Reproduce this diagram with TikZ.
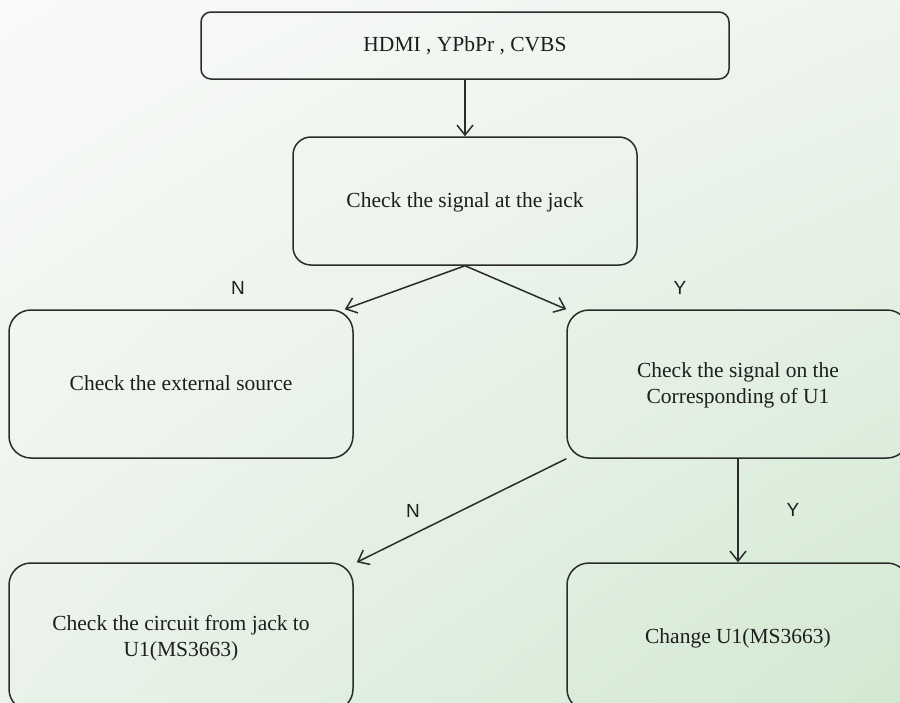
\documentclass[tikz,border=0pt]{standalone}
\usepackage{fontspec}
\usepackage{tikz}
\usepackage{xcolor}
\usetikzlibrary{arrows.meta,shadings}
\setmainfont{Liberation Serif}
\newfontfamily\lblfont{Liberation Sans}
\definecolor{edgegray}{HTML}{2B2B2B}
\definecolor{txtgray}{HTML}{1E1E1E}
\definecolor{bgtl}{HTML}{F9FAF8}
\definecolor{bgtr}{HTML}{EEF4EE}
\definecolor{bgbl}{HTML}{EAF2EA}
\definecolor{bgbr}{HTML}{D2E9D1}

\begin{document}
\begin{tikzpicture}[x=1pt,y=-1pt,
  box/.style={draw=edgegray,line width=1.5pt,rounded corners=#1,align=center,
    text=txtgray,font=\fontsize{21.5}{26}\selectfont,inner sep=0pt,text depth=2pt},
  yn/.style={text=txtgray,font=\lblfont\fontsize{19}{22}\selectfont},
  arr/.style={draw=edgegray,line width=1.5pt,-{Straight Barb[length=10pt,width=16pt,line width=1.5pt]}}]
\useasboundingbox (0,0) rectangle (900,702);
\shade[upper left=bgtl,upper right=bgtr,lower left=bgbl,lower right=bgbr] (0,0) rectangle (900,702);
\node[box=10pt,minimum width=528pt,minimum height=67pt] (src) at (465,45.5) {HDMI , YPbPr , CVBS};
\node[box=18pt,minimum width=344pt,minimum height=128pt] (jack) at (465,201) {Check the signal at the jack};
\node[box=22pt,minimum width=344pt,minimum height=148pt] (ext) at (181,384) {Check the external source};
\node[box=22pt,minimum width=342pt,minimum height=148pt] (corr) at (738,384) {Check the signal on the\\Corresponding of U1};
\node[box=22pt,minimum width=344pt,minimum height=148pt] (circ) at (181,637) {Check the circuit from jack to\\U1(MS3663)};
\node[box=22pt,minimum width=342pt,minimum height=148pt] (chg) at (738,637) {Change U1(MS3663)};
\node[yn] (n1) at (238,288) {N};
\node[yn] (y1) at (680,288) {Y};
\node[yn] (n2) at (413,511) {N};
\node[yn] (y2) at (793,510) {Y};
\draw[arr] (src.south) -- (jack.north);
\draw[arr] (jack.south) -- ([xshift=-9pt]ext.north east);
\draw[arr] (jack.south) -- (corr.north west);
\draw[arr] (corr.south west) -- ([xshift=3pt]circ.north east);
\draw[arr] (corr.south) -- (chg.north);
\end{tikzpicture}
\end{document}
